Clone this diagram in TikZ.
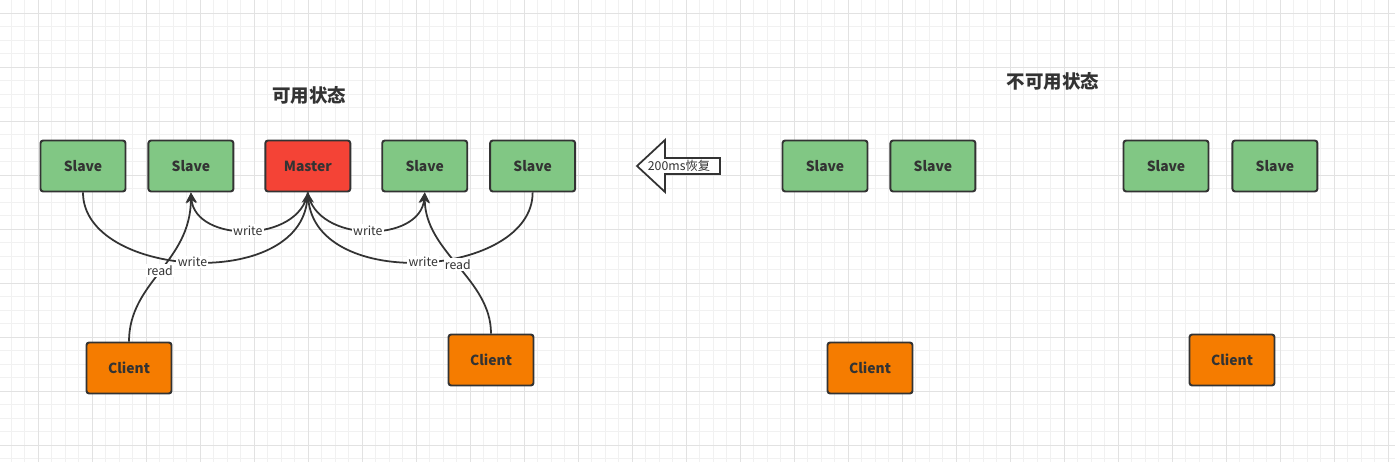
\documentclass[tikz,border=0pt]{standalone}
\usepackage{fontspec}
\setmainfont{Noto Sans CJK SC}
\usetikzlibrary{positioning,arrows.meta}

\definecolor{ink}{HTML}{333333}
\definecolor{slavegreen}{HTML}{81C784}
\definecolor{masterred}{HTML}{F44336}
\definecolor{clientorange}{HTML}{F57C00}
\definecolor{gridminor}{HTML}{F1F1F1}
\definecolor{gridmajor}{HTML}{E2E2E2}

\begin{document}
\begin{tikzpicture}[
  x=0.02cm, y=-0.02cm,
  >={Stealth[length=6pt,width=6pt]},
  box/.style={draw=ink, line width=1.1pt, rounded corners=1.5pt, minimum width=1.7cm, minimum height=1.02cm, inner sep=0pt, text=ink, font=\fontsize{7.9}{10}\selectfont\bfseries},
  slave/.style={box, fill=slavegreen},
  master/.style={box, fill=masterred},
  client/.style={box, fill=clientorange},
  title/.style={text=ink, font=\fontsize{10.5}{13}\selectfont\bfseries},
  link/.style={draw=ink, line width=1pt, ->},
  lbl/.style={fill=white, inner sep=0.8pt, text=ink, font=\fontsize{7}{9}\selectfont}
]

% canvas with grid
\fill[white] (0,0) rectangle (1395,462);
\useasboundingbox (0,0) rectangle (1395,462);
\foreach \gx in {11.3,24.8,...,1395}
  \draw[gridminor, line width=0.6pt] (\gx,0) -- (\gx,462);
\foreach \gy in {-0.2,13.3,...,462}
  \draw[gridminor, line width=0.6pt] (0,\gy) -- (1395,\gy);
\foreach \gx in {38.3,92.3,...,1395}
  \draw[gridmajor, line width=0.6pt] (\gx,0) -- (\gx,462);
\foreach \gy in {13.3,67.3,...,462}
  \draw[gridmajor, line width=0.6pt] (0,\gy) -- (1395,\gy);

% available state
\node[title] (up) at (309,95) {可用状态};
\node[slave]                   (s1) at (83,166) {Slave};
\node[slave, right=0.42cm of s1] (s2) {Slave};
\node[master, right=0.60cm of s2] (m) {Master};
\node[slave, right=0.60cm of m]  (s3) {Slave};
\node[slave, right=0.42cm of s3] (s4) {Slave};
\node[client] (c1) at (129,368) {Client};
\node[client] (c2) at (491,360) {Client};

\draw[link] (s1.south) .. controls +(0,85) and +(-8,100) .. (m.south) node[lbl, pos=0.5] {write};
\draw[link] (s4.south) .. controls +(0,85) and +(8,100) .. (m.south) node[lbl, pos=0.5] {write};
\draw[link] (m.south) .. controls +(-8,51) and +(4,51) .. (s2.south) node[lbl, pos=0.5] {write};
\draw[link] (m.south) .. controls +(8,51) and +(-4,51) .. (s3.south) node[lbl, pos=0.5] {write};
\draw[link] (c1.north) .. controls +(0,-60) and +(0,70) .. (s2.south) node[lbl, pos=0.5] {read};
\draw[link] (c2.north) .. controls +(0,-55) and +(0,60) .. (s3.south) node[lbl, pos=0.5] {read};

% recovery arrow
\draw[draw=ink, line width=1pt, fill=white, line join=miter]
  (720,158) -- (665,158) -- (665,140) -- (637,166) -- (665,192) -- (665,174) -- (720,174) -- cycle;
\node[lbl, fill=none] (back) at (679,166) {200ms恢复};

% unavailable state
\node[title] (down) at (1053,81) {不可用状态};
\node[slave]                   (r1) at (825,166) {Slave};
\node[slave, right=0.42cm of r1] (r2) {Slave};
\node[slave]                   (r3) at (1166,166) {Slave};
\node[slave, right=0.44cm of r3] (r4) {Slave};
\node[client] (c3) at (870,368) {Client};
\node[client] (c4) at (1232,360) {Client};

\end{tikzpicture}
\end{document}
